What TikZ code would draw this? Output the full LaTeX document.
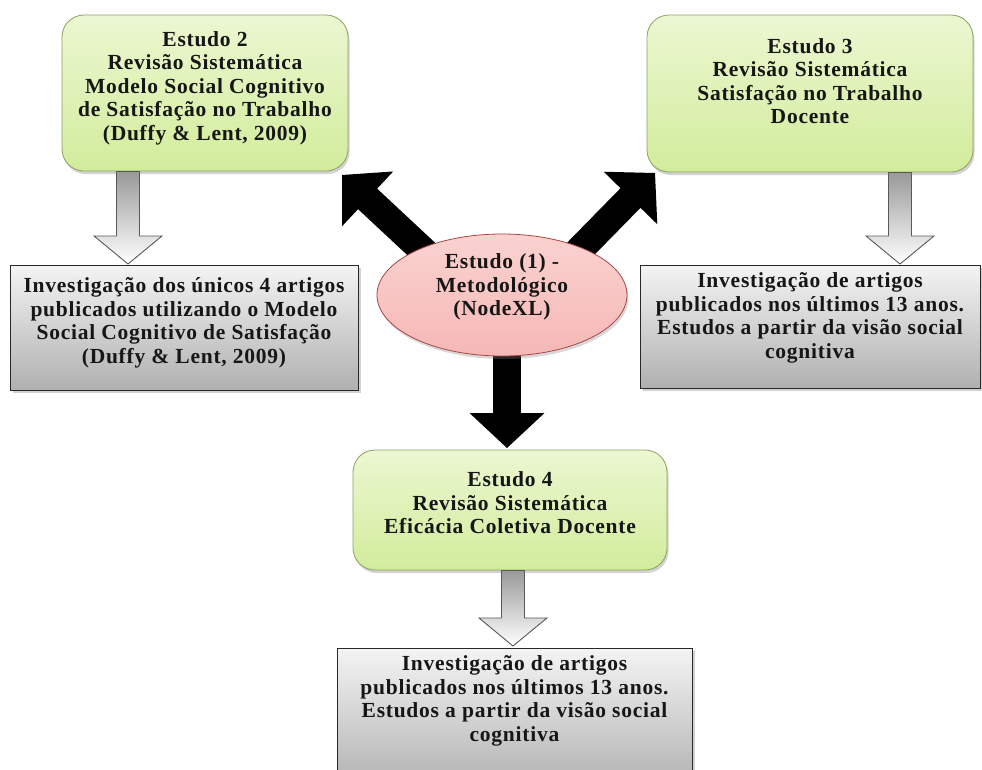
\documentclass[tikz,border=0pt]{standalone}
\usepackage{fontspec}
\newfontfamily\diagfont{Liberation Serif}[LetterSpace=3.5]
\usetikzlibrary{shapes.geometric,calc,shadows}

\definecolor{greentop}{RGB}{236,247,210}
\definecolor{greenbot}{RGB}{210,236,155}
\definecolor{greenedge}{RGB}{140,160,100}
\definecolor{graytop}{RGB}{244,244,244}
\definecolor{graybot}{RGB}{176,176,176}
\definecolor{grayedge}{RGB}{40,40,40}
\definecolor{pinkfill}{RGB}{245,184,182}
\definecolor{pinklight}{RGB}{250,210,208}
\definecolor{pinkedge}{RGB}{170,70,70}
\definecolor{inkcol}{RGB}{22,22,22}

\tikzset{
  txt/.style={font=\diagfont\bfseries\fontsize{21.5}{23.5}\selectfont,
    text=inkcol, align=center, inner sep=0pt},
  greenbox/.style={draw=greenedge, line width=0.8pt, rounded corners=22pt,
    top color=greentop, bottom color=greenbot,
    drop shadow={shadow xshift=1.5pt, shadow yshift=-3pt, opacity=0.35}},
  graybox/.style={draw=grayedge, line width=1pt,
    top color=graytop, bottom color=graybot,
    drop shadow={shadow xshift=2.5pt, shadow yshift=-3pt, opacity=0.35}},
  studyell/.style={ellipse, draw=pinkedge, line width=0.8pt,
    top color=pinklight, bottom color=pinkfill,
    drop shadow={shadow xshift=1.5pt, shadow yshift=-3pt, opacity=0.3}},
  hollowarrow/.style={draw=black!65, line width=0.9pt, line join=miter,
    top color=black!40, bottom color=white},
  fatshaft/.style={draw=black, line width=28pt}
}

% thick black block arrow from #1 to #2 (shaft, then a wide triangular head)
\newcommand\fatarrow[2]{%
  \coordinate (#2base) at ($(#2)!35pt!(#1)$);
  \draw[fatshaft] (#1) -- ($(#2)!34pt!(#1)$);
  \fill[black] (#2) -- ($(#2base)!37.5pt!90:(#2)$)
    -- ($(#2base)!37.5pt!-90:(#2)$) -- cycle;}

% hollow shaded block arrow pointing down, from #1 to the tip #2
\newcommand\hollowdown[2]{%
  \path[hollowarrow] ($(#1)+(-11.5,0)$) -- ($(#2)+(-11.5,-28)$)
    -- ($(#2)+(-34,-28)$) -- (#2) -- ($(#2)+(34,-28)$)
    -- ($(#2)+(11.5,-28)$) -- ($(#1)+(11.5,0)$) -- cycle;}

\begin{document}
\begin{tikzpicture}[x=1pt,y=-1pt]
\useasboundingbox[fill=white] (0,0) rectangle (982,769);
\clip (0,0) rectangle (982,769);

% study boxes
\node[greenbox, minimum width=286pt, minimum height=156pt] (b2) at (205,93) {};
\node[greenbox, minimum width=326pt, minimum height=157pt] (b3) at (810,93.5) {};
\node[greenbox, minimum width=314pt, minimum height=120pt] (b4) at (510,510) {};

% result boxes
\node[graybox, minimum width=348pt, minimum height=125pt] (gA) at (184,327.5) {};
\node[graybox, minimum width=340pt, minimum height=123pt] (gB) at (810,326.5) {};
\node[graybox, minimum width=355pt, minimum height=142pt] (gC) at (514.5,719) {};

% arrows leaving the methodological study
\coordinate (srcL) at (447,273);
\coordinate (tipL) at (342,175);
\coordinate (srcR) at (556,274);
\coordinate (tipR) at (655,173);
\coordinate (srcD) at (507,300);
\coordinate (tipD) at (507,448);
\fatarrow{srcL}{tipL}
\fatarrow{srcR}{tipR}
\fatarrow{srcD}{tipD}

% central study
\node[studyell, minimum width=250pt, minimum height=122pt] (e1) at (502,295) {};

% hollow arrows from each review to its result
\coordinate (a2s) at (128,171.5);
\coordinate (a2e) at (128,264);
\coordinate (a3s) at (900,172.5);
\coordinate (a3e) at (900,264);
\coordinate (a4s) at (513,570.5);
\coordinate (a4e) at (513,646);
\hollowdown{a2s}{a2e}
\hollowdown{a3s}{a3e}
\hollowdown{a4s}{a4e}

% texts
\node[txt] (b2t) at (205,88) {Estudo 2\\Revisão Sistemática\\Modelo Social Cognitivo\\de Satisfação no Trabalho\\(Duffy \& Lent, 2009)};
\node[txt] (b3t) at (810,81) {Estudo 3\\Revisão Sistemática\\Satisfação no Trabalho\\Docente};
\node[txt] (b4t) at (510,503) {Estudo 4\\Revisão Sistemática\\Eficácia Coletiva Docente};
\node[txt] (e1t) at (502,287) {Estudo (1) -\\Metodológico\\(NodeXL)};
\node[txt] (gAt) at (184,323) {Investigação dos únicos 4 artigos\\publicados utilizando o Modelo\\Social Cognitivo de Satisfação\\(Duffy \& Lent, 2009)};
\node[txt] (gBt) at (810,318) {Investigação de artigos\\publicados nos últimos 13 anos.\\Estudos a partir da visão social\\cognitiva};
\node[txt] (gCt) at (514.5,701) {Investigação de artigos\\publicados nos últimos 13 anos.\\Estudos a partir da visão social\\cognitiva};
\end{tikzpicture}
\end{document}
